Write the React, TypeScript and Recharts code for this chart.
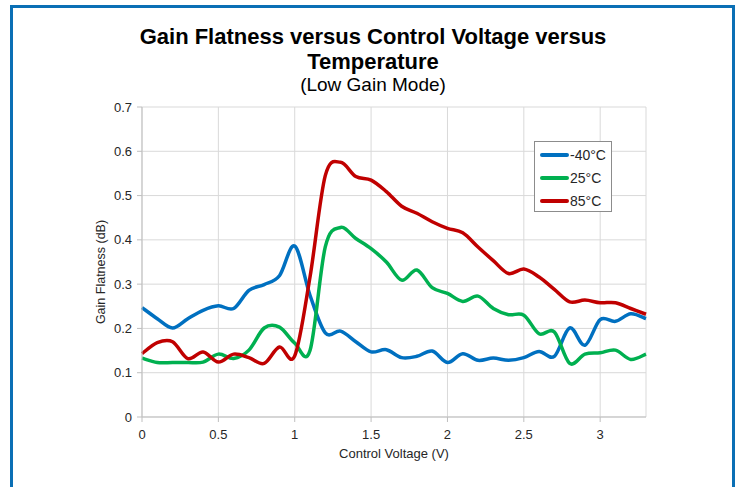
import React from 'react';
import { LineChart, Line, XAxis, YAxis, CartesianGrid, Legend, Label } from 'recharts';

// Control voltage sweep (V), 0.1 V steps
const voltage = [
  0, 0.1, 0.2, 0.3, 0.4, 0.5, 0.6, 0.7, 0.8, 0.9,
  1.0, 1.1, 1.2, 1.3, 1.4, 1.5, 1.6, 1.7, 1.8, 1.9,
  2.0, 2.1, 2.2, 2.3, 2.4, 2.5, 2.6, 2.7, 2.8, 2.9,
  3.0, 3.1, 3.2, 3.3,
];

// Gain flatness (dB) per temperature
const flatnessMinus40 = [
  0.247, 0.222, 0.201, 0.222, 0.241, 0.251, 0.245, 0.286, 0.299, 0.319,
  0.386, 0.275, 0.190, 0.194, 0.170, 0.147, 0.152, 0.134, 0.137, 0.149,
  0.123, 0.143, 0.128, 0.133, 0.128, 0.134, 0.148, 0.137, 0.201, 0.162,
  0.220, 0.216, 0.233, 0.222,
];
const flatness25 = [
  0.133, 0.123, 0.123, 0.123, 0.124, 0.142, 0.132, 0.151, 0.201, 0.203,
  0.167, 0.150, 0.384, 0.428, 0.403, 0.380, 0.350, 0.309, 0.332, 0.292,
  0.279, 0.261, 0.273, 0.245, 0.231, 0.230, 0.188, 0.192, 0.121, 0.142,
  0.145, 0.151, 0.130, 0.142,
];
const flatness85 = [
  0.143, 0.168, 0.170, 0.132, 0.147, 0.124, 0.142, 0.134, 0.121, 0.158,
  0.138, 0.316, 0.545, 0.575, 0.543, 0.535, 0.509, 0.476, 0.460, 0.441,
  0.426, 0.416, 0.384, 0.353, 0.324, 0.334, 0.316, 0.288, 0.260, 0.264,
  0.258, 0.258, 0.245, 0.232,
];

const xTicks = [0, 0.5, 1, 1.5, 2, 2.5, 3];
const yTicks = [0, 0.1, 0.2, 0.3, 0.4, 0.5, 0.6, 0.7];

const series = [
  { key: 'm40', name: '-40°C', color: '#0070C0', values: flatnessMinus40 },
  { key: 't25', name: '25°C', color: '#00B050', values: flatness25 },
  { key: 't85', name: '85°C', color: '#C00000', values: flatness85 },
];

const data = voltage.map((v, i) => {
  const row: Record<string, number> = { v };
  series.forEach((s) => { row[s.key] = s.values[i]; });
  return row;
});

const FONT = '"Liberation Sans", Arial, Helvetica, sans-serif';
const TEXT = '#262626';

// Catmull-Rom style smoothing (spreadsheet "smoothed line"), used as a d3 curve factory
const smoothCurve = (context: any) => {
  let pts: number[][] = [];
  return {
    areaStart() {},
    areaEnd() {},
    lineStart() { pts = []; },
    point(x: number, y: number) { pts.push([+x, +y]); },
    lineEnd() {
      if (!pts.length) return;
      context.moveTo(pts[0][0], pts[0][1]);
      for (let i = 0; i < pts.length - 1; i++) {
        const p0 = pts[i - 1] || pts[i];
        const p1 = pts[i];
        const p2 = pts[i + 1];
        const p3 = pts[i + 2] || p2;
        context.bezierCurveTo(
          p1[0] + (p2[0] - p0[0]) / 6,
          p1[1] + (p2[1] - p0[1]) / 6,
          p2[0] - (p3[0] - p1[0]) / 6,
          p2[1] - (p3[1] - p1[1]) / 6,
          p2[0],
          p2[1],
        );
      }
    },
  };
};

const LegendBox = () => (
  <div
    style={{
      boxSizing: 'border-box',
      width: 78,
      height: 71,
      border: '1px solid #8c8c8c',
      background: '#fff',
      paddingTop: 1,
      fontFamily: FONT,
    }}
  >
    {series.map((s) => (
      <div key={s.key} style={{ display: 'flex', alignItems: 'center', height: 23.3 }}>
        <span style={{ display: 'inline-block', marginLeft: 5, width: 29, height: 4, borderRadius: 2, background: s.color }} />
        <span style={{ fontSize: 14, color: TEXT, marginLeft: 1 }}>{s.name}</span>
      </div>
    ))}
  </div>
);

const YTitle = (props: any) => {
  const { viewBox } = props;
  const cx = viewBox.x + 19;
  const cy = viewBox.y + viewBox.height / 2 + 10;
  return (
    <text
      x={cx}
      y={cy}
      transform={`rotate(-90 ${cx} ${cy})`}
      textAnchor="middle"
      dominantBaseline="central"
      fontSize={12.5}
      fill={TEXT}
      fontFamily={FONT}
    >
      Gain Flatness (dB)
    </text>
  );
};

export default function App() {
  return (
    <div style={{ position: 'absolute', left: 0, top: 0, width: 740, height: 487, background: '#fff', overflow: 'hidden', fontFamily: FONT }}>
      {/* blue frame around the figure */}
      <div style={{ position: 'absolute', left: 10, top: 5, width: 725, height: 520, boxSizing: 'border-box', border: '3.5px solid #0A6FB5' }} />

      <div style={{ position: 'absolute', left: 0, top: 24, width: 746, textAlign: 'center', fontSize: 22, lineHeight: '25px', fontWeight: 'bold', color: '#000' }}>
        Gain Flatness versus Control Voltage versus
        <br />
        Temperature
      </div>
      <div style={{ position: 'absolute', left: 0, top: 74, width: 746, textAlign: 'center', fontSize: 19, lineHeight: '22px', color: '#000' }}>
        (Low Gain Mode)
      </div>

      <div style={{ position: 'absolute', left: 0, top: 0 }}>
        <LineChart
          width={740}
          height={487}
          data={data}
          margin={{ top: 107, right: 94, bottom: 40, left: 82 }}
        >
          <CartesianGrid stroke="#d9d9d9" strokeWidth={1} />
          <XAxis
            dataKey="v"
            type="number"
            domain={[0, 3.3]}
            ticks={xTicks}
            height={30}
            axisLine={{ stroke: '#bfbfbf' }}
            tickLine={{ stroke: '#bfbfbf' }}
            tickSize={5}
            tickMargin={8}
            tick={{ fontSize: 13, fill: TEXT, fontFamily: FONT }}
            interval={0}
          >
            <Label value="Control Voltage (V)" position="insideBottom" offset={-11} fontSize={13} fill={TEXT} fontFamily={FONT} />
          </XAxis>
          <YAxis
            type="number"
            domain={[0, 0.7]}
            ticks={yTicks}
            width={60}
            axisLine={{ stroke: '#bfbfbf' }}
            tickLine={{ stroke: '#bfbfbf' }}
            tickSize={5}
            tickMargin={5}
            tick={{ fontSize: 13, fill: TEXT, fontFamily: FONT }}
            interval={0}
          >
            <Label content={<YTitle />} />
          </YAxis>
          <Legend
            layout="vertical"
            align="center"
            verticalAlign="middle"
            content={<LegendBox />}
            wrapperStyle={{ left: 534, top: 141, width: 78, height: 71 }}
          />
          {series.map((s) => (
            <Line
              key={s.key}
              type={smoothCurve as any}
              dataKey={s.key}
              name={s.name}
              stroke={s.color}
              strokeWidth={3.5}
              dot={false}
              activeDot={false}
              isAnimationActive={false}
            />
          ))}
        </LineChart>
      </div>
    </div>
  );
}
